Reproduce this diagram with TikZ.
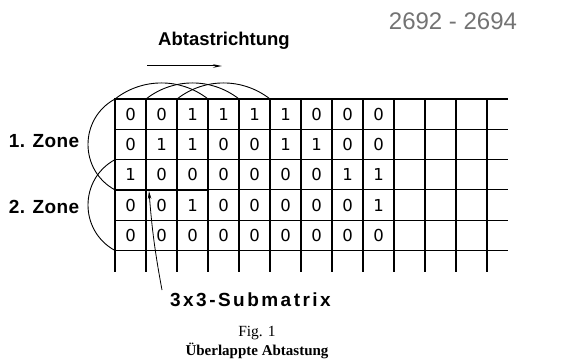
\documentclass[tikz,border=0pt]{standalone}
\usepackage{fontspec}
\setmainfont{Liberation Serif}
\newfontfamily\labfont[LetterSpace=2]{Liberation Sans}
\newfontfamily\widefont[LetterSpace=13]{Liberation Sans}
\newfontfamily\numfont{Liberation Sans}
\newfontfamily\cellfont{DejaVu Sans}
\usetikzlibrary{arrows.meta}
\definecolor{pencil}{RGB}{115,115,115}
\begin{document}
\begin{tikzpicture}[x=1pt,y=-1pt,
  gridline/.style={line width=1.1pt,black},
  subbox/.style={line width=2.2pt,black},
  arcline/.style={line width=0.9pt,black},
  cell/.style={font=\cellfont\fontsize{16.5}{16.5}\selectfont,inner sep=0pt},
  lab/.style={font=\labfont\bfseries\fontsize{19}{19}\selectfont,inner sep=0pt},
  dirlab/.style={font=\numfont\bfseries\fontsize{18.5}{18.5}\selectfont,inner sep=0pt},
  widelab/.style={font=\widefont\bfseries\fontsize{19}{19}\selectfont,inner sep=0pt},
  pointer/.style={line width=0.8pt,-{Stealth[length=8pt,width=3.5pt]}},
  dirarrow/.style={line width=1pt,-{Stealth[length=9pt,width=3.5pt]}}]
\useasboundingbox (0,0) rectangle (571,361);
% grid
\foreach \i in {0,...,5}
  \draw[gridline] (115,{99+30.3*\i}) -- (508,{99+30.3*\i});
\foreach \j in {0,...,12}
  \draw[gridline] ({115+31*\j},99) -- ({115+31*\j},272);
% cell contents
\foreach \r/\row in {1/{0,0,1,1,1,1,0,0,0},2/{0,1,1,0,0,1,1,0,0},3/{1,0,0,0,0,0,0,1,1},4/{0,0,1,0,0,0,0,0,1},5/{0,0,0,0,0,0,0,0,0}}
  \foreach \v [count=\c] in \row
    \node[cell] (cell-\r-\c) at ({115+31*(\c-0.5)},{99+30.3*(\r-0.5)}) {\v};
% submatrix box
\draw[subbox] (115,99) rectangle (208,189.9);
% top arcs (scan positions)
\coordinate (t1a) at (115,99);  \coordinate (t1b) at (208,99);
\coordinate (t2a) at (146,99);  \coordinate (t2b) at (239,99);
\coordinate (t3a) at (177,99);  \coordinate (t3b) at (270,99);
\foreach \t in {t1,t2,t3}
  \draw[arcline] (\t a) .. controls +(27.3,-21.4) and +(-27.3,-21.4) .. (\t b);
% left arcs (zones)
\coordinate (z1a) at (115,99);    \coordinate (z1b) at (115,189.9);
\coordinate (z2a) at (115,159.6); \coordinate (z2b) at (115,250.5);
\foreach \z in {z1,z2}
  \draw[arcline] (\z a) .. controls +(-36,19.6) and +(-36,-19.6) .. (\z b);
% labels
\node[lab] (zone1) at (44,141) {1. Zone};
\node[lab] (zone2) at (44,207) {2. Zone};
\node[dirlab] (dir) at (224,41) {Abtastrichtung};
\coordinate (dirA) at (147,66);
\coordinate (dirB) at (222,66);
\draw[dirarrow] (dirA) -- (dirB);
\node[widelab,anchor=west] (sub) at (170,300) {3x3-Submatrix};
\coordinate (ptail) at (162,290);
\coordinate (ptip) at (149,191);
\draw[pointer] (ptail) to[bend left=3] (ptip);
\node[font=\numfont\fontsize{24}{24}\selectfont,text=pencil,inner sep=0pt] (num) at (453,21) {2692 - 2694};
\node[font=\fontsize{15.5}{15.5}\selectfont,inner sep=0pt] (fig) at (257,333) {Fig. 1};
\node[font=\bfseries\fontsize{15}{15}\selectfont,inner sep=0pt] (cap) at (257,351) {Überlappte Abtastung};
\end{tikzpicture}
\end{document}
